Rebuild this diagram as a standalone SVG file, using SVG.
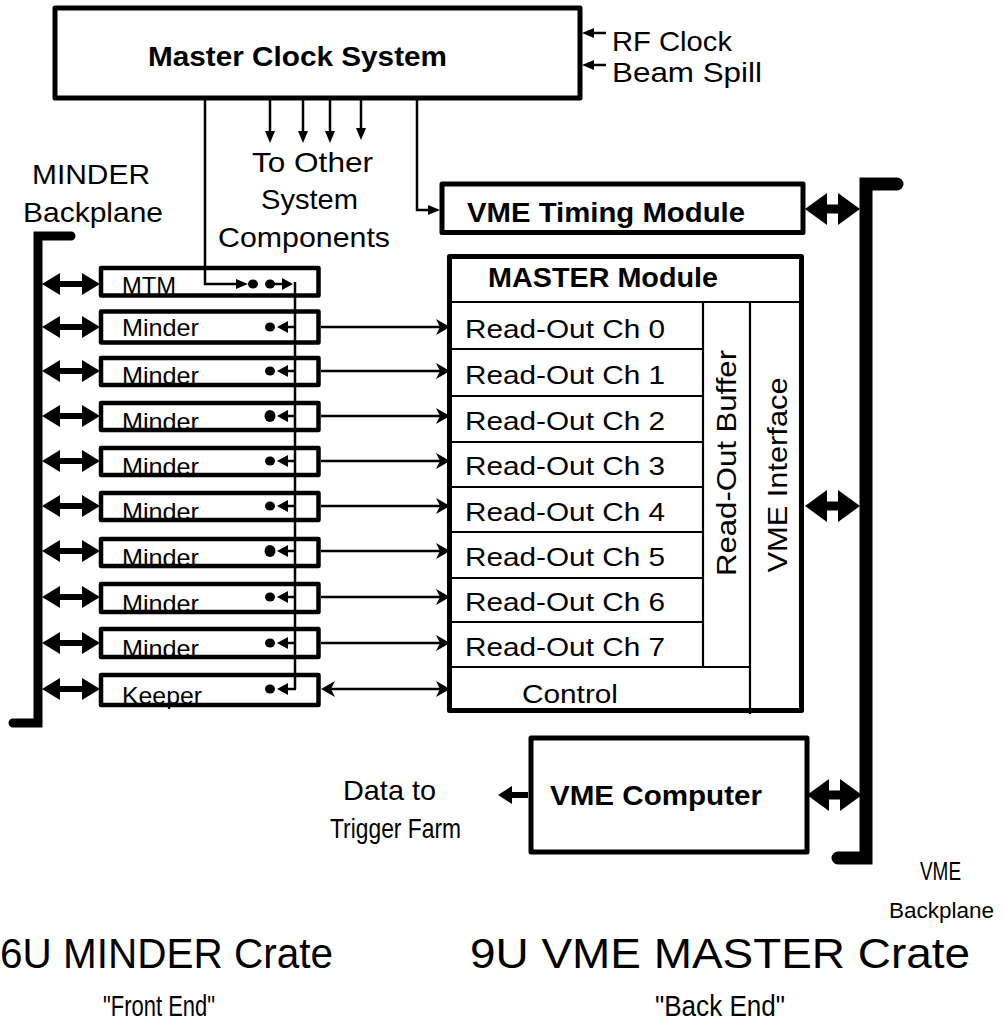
<svg xmlns="http://www.w3.org/2000/svg" width="1003" height="1026" viewBox="0 0 1003 1026">
<style>
  .box{fill:none;stroke:#000;stroke-width:5;stroke-linejoin:round}
  .mbox{fill:none;stroke:#000;stroke-width:4.5;stroke-linejoin:round}
  .thin{fill:none;stroke:#000;stroke-width:2.2}
  .wire{fill:none;stroke:#000;stroke-width:2.5}
  .bp{fill:none;stroke:#000;stroke-linecap:round;stroke-linejoin:miter}
  .t{font-family:"Liberation Sans",Arial,sans-serif;fill:#000}
  .b{font-weight:bold}
  .dot{fill:#000}
</style>
<defs>
  <marker id="ahs" viewBox="0 -5 12 10" refX="0" refY="0" markerWidth="12" markerHeight="10" markerUnits="userSpaceOnUse" orient="auto-start-reverse"><path d="M0,-5 L12,0 L0,5 z"/></marker>
  <marker id="aht" viewBox="0 -6 11 12" refX="0" refY="0" markerWidth="11" markerHeight="12" markerUnits="userSpaceOnUse" orient="auto-start-reverse"><path d="M0,-6 L11,0 L0,6 z"/></marker>
  <marker id="ahm" viewBox="0 -11 18 22" refX="0" refY="0" markerWidth="18" markerHeight="22" markerUnits="userSpaceOnUse" orient="auto-start-reverse"><path d="M0,-11 L18,0 L0,11 z"/></marker>
  <marker id="ahl" viewBox="0 -16 22 32" refX="0" refY="0" markerWidth="22" markerHeight="32" markerUnits="userSpaceOnUse" orient="auto-start-reverse"><path d="M0,-16 L22,0 L0,16 z"/></marker>
  <marker id="ahd" viewBox="0 -9 14 18" refX="0" refY="0" markerWidth="14" markerHeight="18" markerUnits="userSpaceOnUse" orient="auto-start-reverse"><path d="M0,-9 L14,0 L0,9 z"/></marker>
  <marker id="ahb" viewBox="0 -8 14 16" refX="4" refY="0" markerWidth="14" markerHeight="16" markerUnits="userSpaceOnUse" orient="auto-start-reverse"><path d="M0,-8 L14,0 L0,8 L4,0 z"/></marker>
</defs>
<rect width="1003" height="1026" fill="#fff"/>

<g id="master-clock">
  <rect class="box" x="55" y="8" width="525" height="90" stroke-width="4.5"/>
  <text class="t b" x="148" y="66" font-size="28" textLength="299" lengthAdjust="spacingAndGlyphs">Master Clock System</text>
</g>
<g id="inputs">
  <text class="t" x="612" y="51" font-size="28" textLength="120" lengthAdjust="spacingAndGlyphs">RF Clock</text>
  <text class="t" x="612" y="82" font-size="28" textLength="150" lengthAdjust="spacingAndGlyphs">Beam Spill</text>
</g>
<g id="other-components">
  <text class="t" x="252" y="172" font-size="28" textLength="121" lengthAdjust="spacingAndGlyphs">To Other</text>
  <text class="t" x="261" y="209" font-size="28" textLength="97" lengthAdjust="spacingAndGlyphs">System</text>
  <text class="t" x="218" y="247" font-size="28" textLength="172" lengthAdjust="spacingAndGlyphs">Components</text>
</g>

<g id="minder-backplane">
  <path class="bp" d="M71,236 H38 V723 H13" stroke-width="9"/>
  <text class="t" x="32" y="184" font-size="28" textLength="118" lengthAdjust="spacingAndGlyphs">MINDER</text>
  <text class="t" x="23" y="222" font-size="28" textLength="140" lengthAdjust="spacingAndGlyphs">Backplane</text>
</g>

<g id="mtm">
  <text class="t" x="122" y="294" font-size="24" textLength="54" lengthAdjust="spacingAndGlyphs">MTM</text>
  <rect class="mbox" x="101" y="268" width="217.5" height="27.5"/>
  <ellipse class="dot" cx="253" cy="284" rx="5" ry="4.5"/>
  <ellipse class="dot" cx="270" cy="284" rx="5" ry="4.5"/>
</g>
<g id="minder-0">
  <text class="t" x="122" y="336" font-size="24" textLength="77" lengthAdjust="spacingAndGlyphs">Minder</text>
  <rect class="mbox" x="101" y="311.5" width="217.5" height="31"/>
  <ellipse class="dot" cx="270" cy="327" rx="5" ry="4.5"/>
</g>
<g id="minder-1">
  <text class="t" x="122" y="384" font-size="24" textLength="77" lengthAdjust="spacingAndGlyphs">Minder</text>
  <rect class="mbox" x="101" y="358" width="217.5" height="27"/>
  <ellipse class="dot" cx="270" cy="371" rx="5" ry="4.5"/>
</g>
<g id="minder-2">
  <text class="t" x="122" y="430" font-size="24" textLength="77" lengthAdjust="spacingAndGlyphs">Minder</text>
  <rect class="mbox" x="101" y="403" width="217.5" height="27"/>
  <ellipse class="dot" cx="270" cy="416" rx="5.5" ry="6"/>
</g>
<g id="minder-3">
  <text class="t" x="122" y="475" font-size="24" textLength="77" lengthAdjust="spacingAndGlyphs">Minder</text>
  <rect class="mbox" x="101" y="448" width="217.5" height="27"/>
  <ellipse class="dot" cx="270" cy="461" rx="5" ry="4.5"/>
</g>
<g id="minder-4">
  <text class="t" x="122" y="520" font-size="24" textLength="77" lengthAdjust="spacingAndGlyphs">Minder</text>
  <rect class="mbox" x="101" y="493" width="217.5" height="27"/>
  <ellipse class="dot" cx="270" cy="506" rx="5" ry="4.5"/>
</g>
<g id="minder-5">
  <text class="t" x="122" y="566" font-size="24" textLength="77" lengthAdjust="spacingAndGlyphs">Minder</text>
  <rect class="mbox" x="101" y="539" width="217.5" height="27"/>
  <ellipse class="dot" cx="270" cy="551" rx="5.5" ry="6"/>
</g>
<g id="minder-6">
  <text class="t" x="122" y="612" font-size="24" textLength="77" lengthAdjust="spacingAndGlyphs">Minder</text>
  <rect class="mbox" x="101" y="584" width="217.5" height="28"/>
  <ellipse class="dot" cx="270" cy="597" rx="5" ry="4.5"/>
</g>
<g id="minder-7">
  <text class="t" x="122" y="657" font-size="24" textLength="77" lengthAdjust="spacingAndGlyphs">Minder</text>
  <rect class="mbox" x="101" y="629" width="217.5" height="28"/>
  <ellipse class="dot" cx="270" cy="643" rx="5" ry="4.5"/>
</g>
<g id="keeper">
  <text class="t" x="122" y="704" font-size="24" textLength="80" lengthAdjust="spacingAndGlyphs">Keeper</text>
  <rect class="mbox" x="101" y="675" width="217.5" height="30"/>
  <ellipse class="dot" cx="270" cy="689" rx="5" ry="4.5"/>
</g>

<g id="vme-timing">
  <rect class="box" x="442" y="184" width="361" height="48.5"/>
  <text class="t b" x="467" y="222" font-size="27" textLength="278" lengthAdjust="spacingAndGlyphs">VME Timing Module</text>
</g>

<g id="master-module">
  <rect class="box" x="449.5" y="256.5" width="352" height="454"/>
  <line class="thin" x1="452" y1="302" x2="804" y2="302"/>
  <line class="thin" x1="452" y1="349" x2="703" y2="349"/>
  <line class="thin" x1="452" y1="396" x2="703" y2="396"/>
  <line class="thin" x1="452" y1="442" x2="703" y2="442"/>
  <line class="thin" x1="452" y1="487" x2="703" y2="487"/>
  <line class="thin" x1="452" y1="532" x2="703" y2="532"/>
  <line class="thin" x1="452" y1="578" x2="703" y2="578"/>
  <line class="thin" x1="452" y1="622" x2="703" y2="622"/>
  <line class="thin" x1="452" y1="667" x2="750" y2="667"/>
  <line class="thin" x1="703" y1="302" x2="703" y2="667"/>
  <line class="thin" x1="750" y1="302" x2="750" y2="714"/>
  <text class="t b" x="488" y="287" font-size="27" textLength="230" lengthAdjust="spacingAndGlyphs">MASTER Module</text>
  <text class="t" x="465" y="338" font-size="26" textLength="200" lengthAdjust="spacingAndGlyphs">Read-Out Ch 0</text>
  <text class="t" x="465" y="384" font-size="26" textLength="200" lengthAdjust="spacingAndGlyphs">Read-Out Ch 1</text>
  <text class="t" x="465" y="430" font-size="26" textLength="200" lengthAdjust="spacingAndGlyphs">Read-Out Ch 2</text>
  <text class="t" x="465" y="475" font-size="26" textLength="200" lengthAdjust="spacingAndGlyphs">Read-Out Ch 3</text>
  <text class="t" x="465" y="521" font-size="26" textLength="200" lengthAdjust="spacingAndGlyphs">Read-Out Ch 4</text>
  <text class="t" x="465" y="566" font-size="26" textLength="200" lengthAdjust="spacingAndGlyphs">Read-Out Ch 5</text>
  <text class="t" x="465" y="611" font-size="26" textLength="200" lengthAdjust="spacingAndGlyphs">Read-Out Ch 6</text>
  <text class="t" x="465" y="656" font-size="26" textLength="200" lengthAdjust="spacingAndGlyphs">Read-Out Ch 7</text>
  <text class="t" x="522" y="703" font-size="26" textLength="96" lengthAdjust="spacingAndGlyphs">Control</text>
  <text class="t" transform="translate(736,463) rotate(-90)" x="0" y="0" text-anchor="middle" font-size="28" textLength="226" lengthAdjust="spacingAndGlyphs">Read-Out Buffer</text>
  <text class="t" transform="translate(787,475) rotate(-90)" x="0" y="0" text-anchor="middle" font-size="28" textLength="195" lengthAdjust="spacingAndGlyphs">VME Interface</text>
</g>

<g id="vme-computer">
  <rect class="box" x="531" y="738" width="276" height="114"/>
  <text class="t b" x="550" y="805" font-size="27" textLength="212" lengthAdjust="spacingAndGlyphs">VME Computer</text>
</g>
<g id="trigger-farm-label">
  <text class="t" x="343" y="800" font-size="28" textLength="93" lengthAdjust="spacingAndGlyphs">Data to</text>
  <text class="t" x="330" y="838" font-size="28" textLength="131" lengthAdjust="spacingAndGlyphs">Trigger Farm</text>
</g>

<g id="vme-backplane">
  <path class="bp" d="M897,184 H866 V858 H838" stroke-width="13"/>
  <text class="t" x="920" y="880" font-size="26" textLength="41" lengthAdjust="spacingAndGlyphs">VME</text>
  <text class="t" x="889" y="918" font-size="22.5">Backplane</text>
</g>

<g id="titles">
  <text class="t" x="0" y="968" font-size="42" textLength="333" lengthAdjust="spacingAndGlyphs">6U MINDER Crate</text>
  <text class="t" x="103" y="1016" font-size="30" textLength="112" lengthAdjust="spacingAndGlyphs">"Front End"</text>
  <text class="t" x="470" y="968" font-size="42" textLength="500" lengthAdjust="spacingAndGlyphs">9U VME MASTER Crate</text>
  <text class="t" x="655" y="1016" font-size="30" textLength="130" lengthAdjust="spacingAndGlyphs">"Back End"</text>
</g>

<g id="connectors">
  <line class="wire" x1="606" y1="33" x2="594" y2="33" marker-end="url(#ahs)"/>
  <line class="wire" x1="606" y1="65" x2="594" y2="65" marker-end="url(#ahs)"/>
  <line class="wire" x1="270" y1="100" x2="270" y2="131" marker-end="url(#ahs)"/>
  <line class="wire" x1="303" y1="100" x2="303" y2="131" marker-end="url(#ahs)"/>
  <line class="wire" x1="330" y1="100" x2="330" y2="131" marker-end="url(#ahs)"/>
  <line class="wire" x1="361" y1="100" x2="361" y2="128" marker-end="url(#ahs)"/>
  <path class="wire" d="M205,100 V284 H236" marker-end="url(#ahs)"/>
  <path class="wire" d="M417,100 V210 H428" marker-end="url(#ahs)"/>
  <line class="wire" x1="270" y1="284" x2="282" y2="284" marker-end="url(#aht)"/>
  <line class="wire" x1="295" y1="282" x2="295" y2="689"/>
  <line class="wire" x1="296" y1="327" x2="288" y2="327" marker-end="url(#aht)"/>
  <line class="wire" x1="296" y1="371" x2="288" y2="371" marker-end="url(#aht)"/>
  <line class="wire" x1="296" y1="416" x2="288" y2="416" marker-end="url(#aht)"/>
  <line class="wire" x1="296" y1="461" x2="288" y2="461" marker-end="url(#aht)"/>
  <line class="wire" x1="296" y1="506" x2="288" y2="506" marker-end="url(#aht)"/>
  <line class="wire" x1="296" y1="551" x2="288" y2="551" marker-end="url(#aht)"/>
  <line class="wire" x1="296" y1="597" x2="288" y2="597" marker-end="url(#aht)"/>
  <line class="wire" x1="296" y1="643" x2="288" y2="643" marker-end="url(#aht)"/>
  <line class="wire" x1="296" y1="689" x2="288" y2="689" marker-end="url(#aht)"/>
  <g stroke="#000" stroke-width="6">
    <line x1="60" y1="284" x2="82" y2="284" marker-start="url(#ahm)" marker-end="url(#ahm)"/>
    <line x1="60" y1="327" x2="82" y2="327" marker-start="url(#ahm)" marker-end="url(#ahm)"/>
    <line x1="60" y1="371" x2="82" y2="371" marker-start="url(#ahm)" marker-end="url(#ahm)"/>
    <line x1="60" y1="416" x2="82" y2="416" marker-start="url(#ahm)" marker-end="url(#ahm)"/>
    <line x1="60" y1="461" x2="82" y2="461" marker-start="url(#ahm)" marker-end="url(#ahm)"/>
    <line x1="60" y1="506" x2="82" y2="506" marker-start="url(#ahm)" marker-end="url(#ahm)"/>
    <line x1="60" y1="551" x2="82" y2="551" marker-start="url(#ahm)" marker-end="url(#ahm)"/>
    <line x1="60" y1="597" x2="82" y2="597" marker-start="url(#ahm)" marker-end="url(#ahm)"/>
    <line x1="60" y1="643" x2="82" y2="643" marker-start="url(#ahm)" marker-end="url(#ahm)"/>
    <line x1="60" y1="689" x2="82" y2="689" marker-start="url(#ahm)" marker-end="url(#ahm)"/>
  </g>
  <line class="wire" x1="321" y1="327" x2="440" y2="327" marker-end="url(#ahb)"/>
  <line class="wire" x1="321" y1="371" x2="440" y2="371" marker-end="url(#ahb)"/>
  <line class="wire" x1="321" y1="416" x2="440" y2="416" marker-end="url(#ahb)"/>
  <line class="wire" x1="321" y1="461" x2="440" y2="461" marker-end="url(#ahb)"/>
  <line class="wire" x1="321" y1="506" x2="440" y2="506" marker-end="url(#ahb)"/>
  <line class="wire" x1="321" y1="551" x2="440" y2="551" marker-end="url(#ahb)"/>
  <line class="wire" x1="321" y1="597" x2="440" y2="597" marker-end="url(#ahb)"/>
  <line class="wire" x1="321" y1="643" x2="440" y2="643" marker-end="url(#ahb)"/>
  <line class="wire" x1="331" y1="689" x2="440" y2="689" marker-start="url(#ahb)" marker-end="url(#ahb)"/>
  <g stroke="#000" stroke-width="9">
    <line x1="827" y1="209" x2="838" y2="209" marker-start="url(#ahl)" marker-end="url(#ahl)"/>
    <line x1="827" y1="506" x2="838" y2="506" marker-start="url(#ahl)" marker-end="url(#ahl)"/>
    <line x1="829" y1="795" x2="840" y2="795" marker-start="url(#ahl)" marker-end="url(#ahl)"/>
  </g>
  <line stroke="#000" stroke-width="6" x1="528" y1="795" x2="512" y2="795" marker-end="url(#ahd)"/>
</g>
</svg>
